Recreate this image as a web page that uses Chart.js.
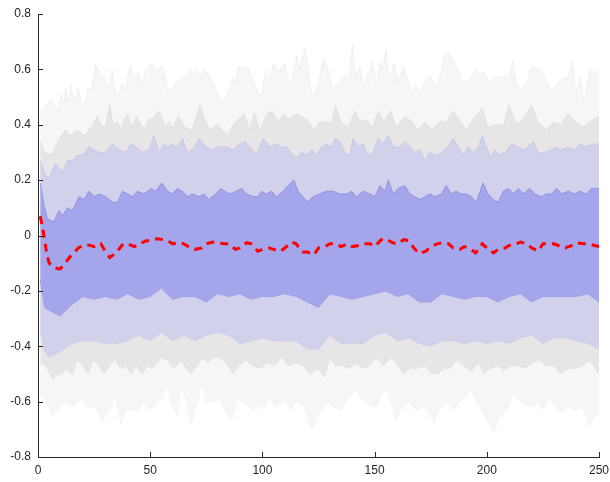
<!DOCTYPE html>
<html>
<head>
<meta charset="utf-8">
<script src="https://cdn.jsdelivr.net/npm/chart.js@4/dist/chart.umd.min.js"></script>
<style>
html,body{margin:0;padding:0;background:#fff;}
#wrap{width:610px;height:482px;}
</style>
</head>
<body>
<div id="wrap"><canvas id="c" width="610" height="482"></canvas></div>
<script>
// lower inner bands sampled every 5 steps
const bandX = [1,3,5,10,15,20,25,30,35,40,45,50,55,60,65,70,75,80,85,90,95,100,105,110,115,120,125,130,135,140,145,150,155,160,165,170,175,180,185,190,195,200,205,210,215,220,225,230,235,240,245,250];
const innerLo = [-0.16,-0.26,-0.27,-0.29,-0.25,-0.22,-0.23,-0.22,-0.23,-0.21,-0.23,-0.22,-0.19,-0.23,-0.22,-0.22,-0.24,-0.21,-0.22,-0.21,-0.23,-0.22,-0.22,-0.21,-0.22,-0.24,-0.26,-0.21,-0.22,-0.23,-0.22,-0.21,-0.20,-0.22,-0.21,-0.24,-0.24,-0.21,-0.22,-0.23,-0.22,-0.22,-0.24,-0.22,-0.21,-0.24,-0.22,-0.22,-0.22,-0.22,-0.21,-0.24];
const lilacLo = [-0.34,-0.42,-0.44,-0.42,-0.39,-0.38,-0.38,-0.39,-0.39,-0.38,-0.36,-0.38,-0.35,-0.38,-0.36,-0.38,-0.36,-0.35,-0.36,-0.39,-0.38,-0.37,-0.38,-0.38,-0.38,-0.41,-0.41,-0.36,-0.39,-0.39,-0.39,-0.36,-0.35,-0.38,-0.37,-0.39,-0.40,-0.38,-0.38,-0.39,-0.38,-0.39,-0.38,-0.39,-0.37,-0.36,-0.39,-0.37,-0.37,-0.38,-0.39,-0.41];

// upper inner bands, read at peaks and troughs
const lilacHiX = [1,3,4.9,7.9,10.9,13.1,15.3,17.5,19.8,22.7,25,27.2,30.2,33.2,36.1,39.1,41.3,43.6,46.5,49.5,51.7,54,56.2,57.7,59.9,62.1,64.4,66.6,68.8,71.8,74.8,77.7,80,84,86.9,89.9,92.1,94.4,97.3,100.3,103.3,105.5,108.5,110.7,112.9,115.2,117.4,119.6,121.9,124.1,126.3,128.6,130.8,132.3,134.5,136.7,138.9,140.4,142.7,144.9,147.1,149.3,151.6,153.8,156.1,158.3,161.3,163.5,165.7,167.9,170.2,172.4,174.6,176.8,179.8,182.8,185,187.2,189.5,191.7,193.9,196.2,198,199.9,201.8,203.6,205.8,208.1,211,214,216.2,218.5,220.7,223,225.9,228.9,231.1,233.3,236.3,239.2,241.5,244.4,246.7,250];
const lilacHi = [0.27,0.22,0.21,0.26,0.23,0.27,0.27,0.29,0.29,0.32,0.31,0.30,0.30,0.33,0.31,0.30,0.33,0.32,0.30,0.31,0.36,0.30,0.33,0.32,0.33,0.32,0.35,0.30,0.31,0.35,0.32,0.31,0.32,0.32,0.31,0.33,0.34,0.32,0.29,0.35,0.32,0.33,0.32,0.32,0.30,0.28,0.30,0.29,0.31,0.29,0.32,0.33,0.32,0.35,0.34,0.30,0.29,0.35,0.32,0.33,0.29,0.30,0.35,0.33,0.36,0.32,0.32,0.34,0.32,0.30,0.31,0.27,0.30,0.29,0.30,0.32,0.35,0.32,0.29,0.32,0.30,0.32,0.36,0.32,0.28,0.31,0.29,0.30,0.33,0.32,0.31,0.32,0.34,0.30,0.30,0.31,0.32,0.31,0.32,0.31,0.33,0.32,0.33,0.33];
const innerHiX = [1,2.7,4.2,7.1,9.4,10.9,13.1,15.3,18.3,20.5,22.7,25,27.2,30.2,33.2,35.4,37.6,39.8,42.1,44.3,47.3,50.2,52.5,55.1,57.7,59.9,62.1,64.4,66.6,68.8,71.8,74,76.2,79.2,81.4,83.2,85.5,88.4,90.7,92.9,95.9,98.1,99.6,101.8,104,106.3,109.2,111.5,114,115.9,118.1,119.9,122.6,125.6,128.6,131.5,134.5,137.5,139.7,141.9,144.9,147.9,150.1,152.4,154.6,156.1,158.3,160.5,163.5,165.7,167.9,170.2,172.4,174.6,176.8,179.8,181.9,184.1,186.4,188.6,190.9,193.1,195.4,198.3,200.6,202.8,205.1,207.3,209.6,211.8,214,216.2,219.2,221.4,224.4,226.6,228.9,231.1,233.3,236.3,239.2,241.5,244.4,246.7,248.9,250];
const innerHi = [0.19,0.11,0.06,0.05,0.09,0.07,0.10,0.09,0.14,0.13,0.16,0.14,0.15,0.14,0.12,0.12,0.16,0.15,0.14,0.16,0.15,0.17,0.16,0.19,0.16,0.15,0.17,0.16,0.14,0.15,0.14,0.15,0.13,0.15,0.17,0.16,0.15,0.16,0.17,0.15,0.14,0.14,0.16,0.15,0.16,0.14,0.16,0.18,0.20,0.16,0.14,0.12,0.14,0.15,0.16,0.16,0.15,0.15,0.16,0.14,0.16,0.15,0.14,0.18,0.16,0.20,0.15,0.17,0.18,0.15,0.14,0.13,0.14,0.15,0.14,0.15,0.18,0.15,0.16,0.15,0.15,0.14,0.12,0.19,0.15,0.13,0.12,0.16,0.17,0.15,0.17,0.15,0.17,0.15,0.14,0.15,0.15,0.17,0.15,0.16,0.15,0.16,0.15,0.17,0.17,0.17];

// outer bands, read at peaks and troughs
const outerHiX = [1,6.1,8.8,10.4,11.5,12.4,13.6,14.7,16,17.9,20.3,22.3,24,25.5,27.9,29.5,31.1,33,34.3,35.9,37.5,39.1,41,42.8,44.7,46.3,47.9,51.1,52.7,54.3,55.9,57.8,59.8,61.4,63.8,66.2,68.3,69.4,71,72.6,73.7,75.3,78.2,81.4,84.6,87,87.8,89.4,91,93.4,95.8,98.2,99.8,101.3,102.9,105.3,106.9,108.5,110.1,111.7,113.3,115.2,116.5,118.9,120.5,122.1,124.5,127.2,129.3,131.2,134,136.9,138.5,140.1,141.7,143.3,145.2,147.6,149.2,150.8,152.4,153.5,155.1,156.4,158.8,160.4,162.8,165.2,166.8,168.4,170,172.4,174.8,176.4,178.8,181.1,183.2,185.1,187,189.1,192.3,194.7,196.6,198.7,201.1,203.5,205.9,208.3,209.9,211.5,213.1,215.5,217.9,220.2,223.4,225.8,229,231.4,234.6,236.2,238.1,239.4,241.8,243.4,245.8,248.2,250];
const outerHi = [0.45,0.49,0.45,0.51,0.48,0.53,0.48,0.54,0.48,0.53,0.45,0.53,0.53,0.62,0.58,0.57,0.53,0.60,0.52,0.51,0.55,0.53,0.61,0.57,0.59,0.54,0.60,0.62,0.59,0.61,0.61,0.52,0.53,0.55,0.56,0.58,0.60,0.57,0.60,0.57,0.60,0.59,0.55,0.48,0.51,0.57,0.55,0.61,0.60,0.61,0.56,0.51,0.51,0.59,0.57,0.62,0.59,0.61,0.62,0.55,0.57,0.65,0.60,0.68,0.60,0.50,0.53,0.64,0.60,0.53,0.55,0.58,0.55,0.69,0.56,0.61,0.54,0.59,0.63,0.54,0.62,0.60,0.67,0.57,0.62,0.55,0.61,0.55,0.51,0.54,0.51,0.56,0.58,0.54,0.56,0.65,0.66,0.63,0.60,0.56,0.55,0.60,0.58,0.59,0.55,0.57,0.57,0.58,0.57,0.63,0.55,0.53,0.55,0.61,0.60,0.57,0.52,0.55,0.57,0.57,0.63,0.52,0.57,0.47,0.60,0.59,0.59];

const grayHiX = [1,3,6,9,12,14.4,17.6,20.7,24.7,26.3,28.7,30.3,31.9,33.5,35.4,37,38.6,39.9,41.8,43.9,46.3,47.9,49.5,51.4,53.5,55.1,56.7,58.3,59.9,62.6,65.4,68.6,71,72.3,74.2,76.6,79.8,82.2,84.6,87,89.4,91.8,94.2,96.6,98.9,102.1,104.5,106.9,109.3,111.7,114.9,117.3,119.7,122.9,125.3,129.3,130.9,132.5,134.9,138.1,141.3,143.7,146,149.2,151.6,154,157.2,159.6,163.6,166.8,169.2,172.4,175.6,178.8,182,185.1,188.3,190.7,193.9,197.9,200.3,204.3,207.5,209.9,213.1,216.3,219.9,222.7,226.6,229.8,233,236.2,239.4,242.6,245.8,250];
const grayHi = [0.34,0.30,0.29,0.34,0.38,0.36,0.38,0.36,0.40,0.43,0.39,0.40,0.47,0.40,0.41,0.38,0.42,0.44,0.39,0.43,0.39,0.39,0.42,0.42,0.45,0.43,0.39,0.41,0.39,0.43,0.39,0.38,0.44,0.47,0.42,0.38,0.40,0.38,0.36,0.40,0.42,0.44,0.38,0.44,0.38,0.44,0.45,0.41,0.44,0.42,0.44,0.43,0.42,0.38,0.41,0.41,0.40,0.47,0.41,0.39,0.45,0.41,0.42,0.39,0.45,0.41,0.45,0.39,0.43,0.41,0.38,0.41,0.38,0.41,0.41,0.45,0.41,0.38,0.42,0.46,0.39,0.40,0.40,0.47,0.40,0.42,0.47,0.41,0.38,0.41,0.40,0.44,0.41,0.39,0.41,0.43];

const grayLoX = [1,3.5,6.4,8.8,10.4,12.8,15.2,17.6,20,22.3,24.7,27.1,29.5,31.9,34.3,36.7,39.1,41.5,43.9,46.3,48.7,51.1,55.1,57.5,60.6,63.8,67.8,71,73.4,75.8,78.2,80.6,83.8,87,89.4,92.6,95.8,98.9,102.1,105.3,108.5,111.7,114.9,118.1,121.3,124.5,127.7,130.1,132.5,135.7,138.9,141.3,144.4,147.6,150.8,154,157.2,160.4,162.8,166,169.2,172.4,175.6,178,181.1,183.5,186.7,189.9,193.1,196.3,198.7,201.9,205.1,207.5,210.7,213.9,217.1,220.2,223.4,226.6,229.8,233,236.2,239.4,242.6,245.8,248.2,250];
const grayLo = [-0.46,-0.47,-0.52,-0.50,-0.50,-0.48,-0.50,-0.45,-0.47,-0.50,-0.45,-0.47,-0.50,-0.47,-0.45,-0.48,-0.47,-0.50,-0.47,-0.50,-0.47,-0.48,-0.44,-0.45,-0.48,-0.45,-0.50,-0.47,-0.44,-0.46,-0.44,-0.44,-0.46,-0.50,-0.47,-0.45,-0.47,-0.48,-0.46,-0.47,-0.44,-0.47,-0.46,-0.47,-0.50,-0.48,-0.51,-0.44,-0.47,-0.47,-0.48,-0.46,-0.48,-0.47,-0.44,-0.47,-0.44,-0.47,-0.50,-0.48,-0.48,-0.47,-0.50,-0.50,-0.48,-0.48,-0.45,-0.47,-0.49,-0.46,-0.50,-0.48,-0.47,-0.49,-0.47,-0.47,-0.48,-0.46,-0.45,-0.47,-0.47,-0.50,-0.48,-0.48,-0.47,-0.45,-0.48,-0.50];

const outerLoX = [1,3.2,6.4,9.6,12.8,15.2,17.6,20,22.3,25.5,28.7,31.9,34.3,37,39.1,42.3,44.7,47.1,49.5,52.7,55.1,57.5,59.8,62.2,63.8,66.2,68.3,71,73.1,75,78.2,81.4,83.8,86.2,88.6,91.8,95.8,98.2,100.5,102.9,106.1,110.1,112.5,114.9,118.1,122.1,124.5,126.9,129.3,131.7,134.9,138.1,141.3,144.4,147.6,150.8,153.2,155.6,157.2,159.6,162,165.2,168.4,171.6,174,176.4,178.8,182,185.1,188.3,190.7,192.8,195.5,197.9,200.8,203,205.9,209.1,211.5,213.9,217.1,220.2,222.7,225.1,227.4,229.8,233,236.2,239.4,242.6,245.8,248.2,250];
const outerLo = [-0.58,-0.59,-0.65,-0.62,-0.60,-0.62,-0.60,-0.59,-0.62,-0.62,-0.67,-0.63,-0.57,-0.68,-0.63,-0.63,-0.63,-0.60,-0.63,-0.61,-0.59,-0.54,-0.62,-0.65,-0.54,-0.60,-0.68,-0.60,-0.53,-0.60,-0.60,-0.59,-0.64,-0.67,-0.59,-0.60,-0.63,-0.61,-0.63,-0.59,-0.62,-0.59,-0.63,-0.60,-0.61,-0.70,-0.65,-0.63,-0.60,-0.62,-0.63,-0.59,-0.56,-0.59,-0.61,-0.62,-0.57,-0.56,-0.60,-0.67,-0.62,-0.60,-0.63,-0.62,-0.63,-0.68,-0.63,-0.60,-0.63,-0.60,-0.58,-0.55,-0.60,-0.63,-0.68,-0.71,-0.65,-0.63,-0.57,-0.59,-0.61,-0.62,-0.60,-0.63,-0.59,-0.61,-0.64,-0.62,-0.63,-0.62,-0.69,-0.65,-0.65];

// median
const medX = [1,2,3,4,5,7,9,10,12,15,18,20,23,25,28,30,32,35,38,40,43,45,48,50,53,55,58,60,63,65,68,70,73,75,78,80,83,85,88,90,93,95,98,100,103,105,108,110,113,115,118,120,123,125,128,130,133,135,138,140,143,145,148,150,153,155,158,160,163,165,168,170,173,175,178,180,183,185,188,190,193,195,198,200,203,205,208,210,213,215,218,220,223,225,228,230,233,235,238,240,243,245,248,250];
const medY = [0.07,0.03,-0.02,-0.07,-0.10,-0.115,-0.12,-0.12,-0.10,-0.07,-0.045,-0.036,-0.035,-0.04,-0.03,-0.057,-0.08,-0.06,-0.03,-0.03,-0.04,-0.03,-0.02,-0.017,-0.012,-0.014,-0.02,-0.03,-0.026,-0.03,-0.045,-0.05,-0.045,-0.03,-0.024,-0.026,-0.03,-0.03,-0.05,-0.045,-0.026,-0.03,-0.057,-0.05,-0.045,-0.05,-0.057,-0.045,-0.024,-0.03,-0.06,-0.06,-0.07,-0.045,-0.04,-0.03,-0.03,-0.04,-0.03,-0.04,-0.036,-0.03,-0.03,-0.04,-0.015,-0.012,-0.026,-0.03,-0.015,-0.018,-0.05,-0.065,-0.056,-0.04,-0.03,-0.026,-0.03,-0.045,-0.05,-0.04,-0.05,-0.063,-0.03,-0.045,-0.063,-0.05,-0.045,-0.036,-0.03,-0.024,-0.03,-0.045,-0.056,-0.03,-0.03,-0.03,-0.04,-0.045,-0.036,-0.026,-0.03,-0.03,-0.036,-0.04];

const xTicks = [0,50,100,150,200,250];
const yTicks = [-0.8,-0.6,-0.4,-0.2,0,0.2,0.4,0.6,0.8];

const pts = (xs, ys) => xs.map((x, i) => ({x: x, y: ys[i]}));

function band(hx, hi, lx, lo, fillCol, edgeCol, targetIdx) {
  return [
    {data: pts(hx, hi), borderColor: edgeCol, borderWidth: 0.8, backgroundColor: fillCol, fill: {target: targetIdx}, pointRadius: 0, tension: 0},
    {data: pts(lx, lo), borderColor: edgeCol, borderWidth: 0.8, backgroundColor: fillCol, fill: false, pointRadius: 0, tension: 0}
  ];
}

const datasets = [
  {data: pts(medX, medY), borderColor: '#ff0000', borderWidth: 3, borderDash: [8, 6], fill: false, pointRadius: 0, tension: 0}
]
  .concat(band(innerHiX, innerHi, bandX, innerLo, 'rgb(165,165,236)', 'rgb(135,135,226)', 2))
  .concat(band(lilacHiX, lilacHi, bandX, lilacLo, 'rgb(209,209,236)', 'rgb(196,196,234)', 4))
  .concat(band(grayHiX, grayHi, grayLoX, grayLo, 'rgb(230,230,230)', 'rgb(221,221,221)', 6))
  .concat(band(outerHiX, outerHi, outerLoX, outerLo, 'rgb(246,246,246)', 'rgb(238,238,238)', 8));

const inwardTicks = {
  id: 'inwardTicks',
  afterDraw(chart) {
    const ctx = chart.ctx, xs = chart.scales.x, ys = chart.scales.y;
    const area = chart.chartArea;
    ctx.save();
    ctx.strokeStyle = '#262626';
    ctx.lineWidth = 1;
    ctx.beginPath();
    xTicks.forEach(v => {
      const p = Math.round(xs.getPixelForValue(v)) + 0.5;
      ctx.moveTo(p, area.bottom); ctx.lineTo(p, area.bottom - 5);
    });
    yTicks.forEach(v => {
      const p = Math.round(ys.getPixelForValue(v)) + 0.5;
      ctx.moveTo(area.left, p); ctx.lineTo(area.left + 5, p);
    });
    ctx.stroke();
    ctx.restore();
  }
};

const tickFont = {family: 'Liberation Sans, Arial, sans-serif', size: 12};

new Chart(document.getElementById('c'), {
  type: 'line',
  data: {datasets: datasets},
  options: {
    responsive: false,
    animation: false,
    events: [],
    layout: {padding: {top: 14, right: 11, left: 0, bottom: 0}},
    plugins: {legend: {display: false}, tooltip: {enabled: false}},
    scales: {
      x: {
        type: 'linear', min: 0, max: 250,
        afterBuildTicks: s => { s.ticks = xTicks.map(v => ({value: v})); },
        afterFit: s => { s.height = 25; s.paddingRight = 0; s.paddingLeft = 0; },
        grid: {display: false, drawTicks: false},
        border: {display: true, color: '#262626', width: 1},
        ticks: {color: '#262626', padding: 6, maxRotation: 0, font: tickFont, callback: v => String(v)}
      },
      y: {
        type: 'linear', min: -0.8, max: 0.8,
        afterBuildTicks: s => { s.ticks = yTicks.map(v => ({value: v})); },
        afterFit: s => { s.width = 38; s.paddingTop = 0; s.paddingBottom = 0; },
        grid: {display: false, drawTicks: false},
        border: {display: true, color: '#262626', width: 1},
        ticks: {color: '#262626', padding: 7, font: tickFont, callback: v => String(Math.round(v * 10) / 10)}
      }
    }
  },
  plugins: [inwardTicks]
});
</script>
</body>
</html>
